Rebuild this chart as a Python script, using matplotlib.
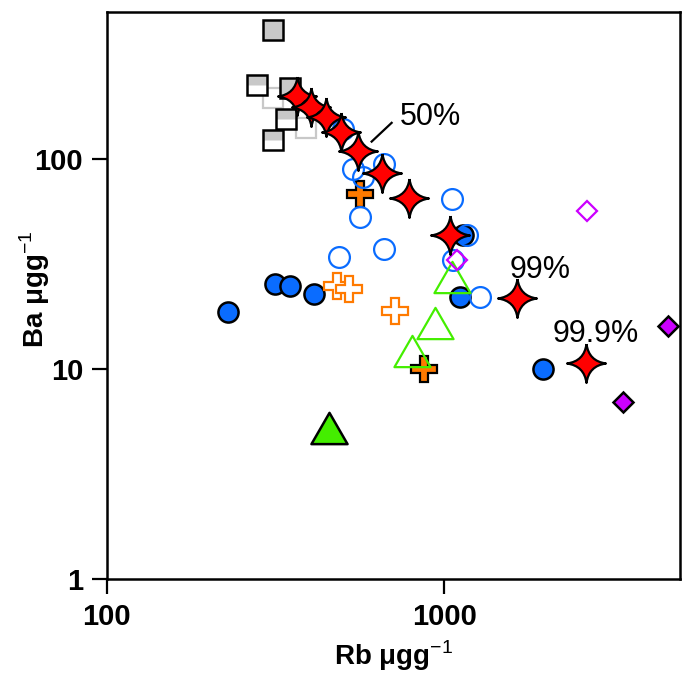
import matplotlib
matplotlib.use("Agg")
import matplotlib.pyplot as plt
from matplotlib.path import Path

plt.rcParams['font.family'] = ['Liberation Sans', 'DejaVu Sans']
plt.rcParams['mathtext.fontset'] = 'custom'
plt.rcParams['mathtext.rm'] = 'Liberation Sans'
plt.rcParams['mathtext.bf'] = 'Liberation Sans:bold'

##########################################
# ----> data (Rb, Ba)
##########################################
grey_full_rb = [310, 350]
grey_full_ba = [410, 217]
grey_half_rb = [278, 339, 310]
grey_half_ba = [225, 155, 122]
grey_open_rb = [310, 388]
grey_open_ba = [195, 140]

blue_fill_rb = [229, 314, 350, 410, 1112, 1135, 1960]
blue_fill_ba = [18.6, 25.2, 24.7, 22.8, 21.9, 43.1, 9.95]
blue_open_rb = [500, 535, 573, 661, 561, 661, 486, 1053, 1166, 1060, 1274]
blue_open_ba = [139, 89.6, 82.1, 94.7, 53.0, 37.0, 33.9, 63.9, 43.1, 32.8, 21.9]

orange_fill_rb = [561, 869]
orange_fill_ba = [68.2, 9.95]
orange_open_rb = [480, 521, 713]
orange_open_ba = [24.9, 23.9, 18.8]

green_fill_rb = [454]
green_fill_ba = [5.2]
green_open_rb = [1053, 937, 801]
green_open_ba = [27.2, 16.5, 12.2]

pink_fill_rb = [4605, 3385]
pink_fill_ba = [15.9, 6.93]
pink_open_rb = [2647, 1089]
pink_open_ba = [56.6, 32.8]

# melting curve (stars) and its labels
star_rb = [365, 402, 445, 493, 553, 652, 785, 1038, 1641, 2631]
star_ba = [199, 177, 157, 134, 109, 85.8, 64.6, 43.1, 21.6, 10.7]
pct_labels = ["50%", "99%", "99.9%"]
pct_rb = [912, 1919, 2816]
pct_ba = [157, 29.4, 14.7]

#########################
# ----> custom markers
#########################
star = Path([(0, 1), (0.12, 0.12), (1, 0), (0.12, -0.12), (0, -1),
             (-0.12, -0.12), (-1, 0), (-0.12, 0.12), (0, 1)],
            [Path.MOVETO, Path.CURVE3, Path.CURVE3, Path.CURVE3, Path.CURVE3,
             Path.CURVE3, Path.CURVE3, Path.CURVE3, Path.CURVE3])
tri = Path([(0, 0.433), (0.5, -0.433), (-0.5, -0.433), (0, 0.433)],
           [Path.MOVETO, Path.LINETO, Path.LINETO, Path.CLOSEPOLY])
# upper half of a square, same scale as "s"
top_half = Path([(-0.5, 0), (0.5, 0), (0.5, 0.5), (-0.5, 0.5), (-0.5, 0)],
                [Path.MOVETO, Path.LINETO, Path.LINETO, Path.LINETO, Path.CLOSEPOLY])

blue = "#0a6cff"
orange = "#ff7a00"
green = "#44ee00"
pink = "#cc00ff"
grey = "#c8c8c8"

fig = plt.figure(figsize=(6.85, 6.9), dpi=100)
ax = fig.add_axes([0.156, 0.161, 0.837, 0.822])

ax.plot(grey_open_rb, grey_open_ba, ls="none", marker="s", ms=14.5, mfc="white", mec=grey, mew=1.6)
ax.plot(grey_full_rb, grey_full_ba, ls="none", marker="s", ms=14.5, mfc=grey, mec="black", mew=1.8)
# half filled squares: white square, grey top half, black outline
ax.plot(grey_half_rb, grey_half_ba, ls="none", marker="s", ms=14.5, mfc="white", mec="none")
ax.plot(grey_half_rb, grey_half_ba, ls="none", marker=top_half, ms=14.5, mfc=grey, mec="none")
ax.plot(grey_half_rb, grey_half_ba, ls="none", marker="s", ms=14.5, mfc="none", mec="black", mew=1.8)

ax.plot(blue_fill_rb, blue_fill_ba, ls="none", marker="o", ms=14.5, mfc=blue, mec="black", mew=1.8)
ax.plot(orange_fill_rb, orange_fill_ba, ls="none", marker="P", ms=19, mfc=orange, mec="black", mew=1.6)
ax.plot(orange_open_rb, orange_open_ba, ls="none", marker="P", ms=19, mfc="white", mec=orange, mew=1.6)
ax.plot(blue_open_rb, blue_open_ba, ls="none", marker="o", ms=15, mfc="none", mec=blue, mew=1.6)
ax.plot(green_fill_rb, green_fill_ba, ls="none", marker=tri, ms=26, mfc=green, mec="black", mew=1.8)
ax.plot(green_open_rb, green_open_ba, ls="none", marker=tri, ms=26, mfc="none", mec=green, mew=1.6)
ax.plot(pink_fill_rb, pink_fill_ba, ls="none", marker="D", ms=10.5, mfc=pink, mec="black", mew=1.8)
ax.plot(pink_open_rb, pink_open_ba, ls="none", marker="D", ms=10.5, mfc="none", mec=pink, mew=1.6)
ax.plot(star_rb, star_ba, ls="none", marker=star, ms=28, mfc="red", mec="black", mew=1.6)

for lab, x, y in zip(pct_labels, pct_rb, pct_ba):
    ax.text(x, y, lab, fontsize=22, ha="center", va="center")
# leader line for the 50% label
ax.plot([609, 698], [120.5, 148], color="black", lw=1.6)

ax.set_xscale("log")
ax.set_yscale("log")
ax.set_xlim(100, 5000)
ax.set_ylim(1, 500)
ax.set_xticks([100, 1000])
ax.set_xticklabels(["100", "1000"])
ax.set_yticks([1, 10, 100])
ax.set_yticklabels(["1", "10", "100"])
ax.minorticks_off()
ax.tick_params(direction="out", length=11, width=1.6, labelsize=21, pad=6)
for lab in ax.get_xticklabels() + ax.get_yticklabels():
    lab.set_fontweight("bold")
for sp in ax.spines.values():
    sp.set_linewidth(1.8)

ax.set_xlabel(r"Rb μgg$^{-1}$", fontsize=20, fontweight="bold")
ax.set_ylabel(r"Ba μgg$^{-1}$", fontsize=20, fontweight="bold")
ax.xaxis.set_label_coords(0.5, -0.105)
ax.yaxis.set_label_coords(-0.095, 0.51)

fig.savefig("out.png", dpi=100)
